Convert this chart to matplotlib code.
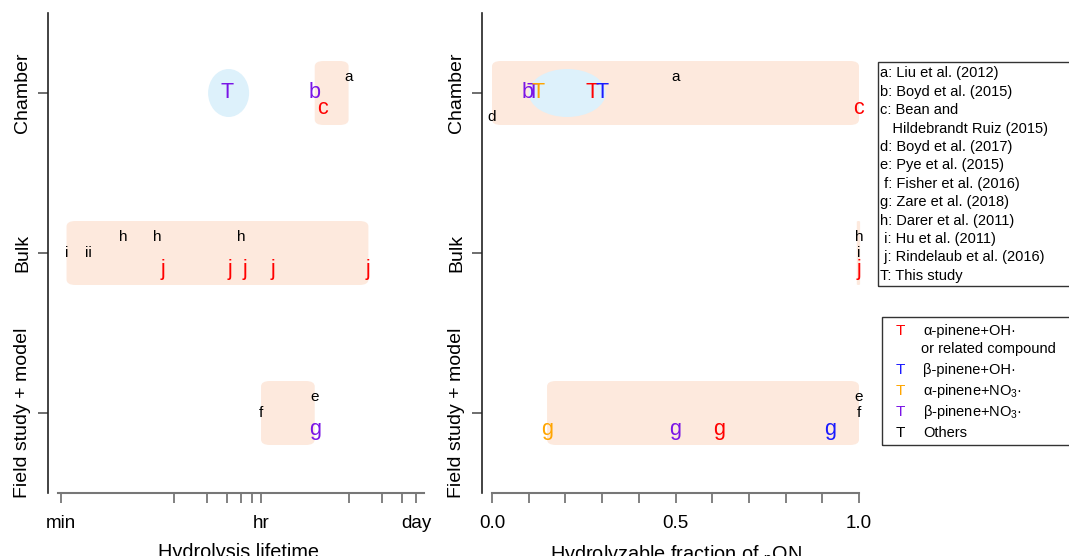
import matplotlib
matplotlib.use("Agg")
import matplotlib.pyplot as plt
from matplotlib.patches import FancyBboxPatch, Ellipse, Rectangle
from matplotlib.transforms import IdentityTransform
from matplotlib.ticker import NullLocator

# ---------------- data ----------------
row_names = ["Field study + model", "Bulk", "Chamber"]          # y = 1, 2, 3

# left panel: hydrolysis lifetime (minutes)
left_letters = ["T", "a", "b", "c",
                "i", "ii", "h", "h", "h", "j", "j", "j", "j", "j",
                "f", "e", "g"]
left_lifetime_min = [30, 360, 180, 210,
                     1.12, 1.75, 3.6, 7.1, 40, 8, 32, 43, 77, 540,
                     60, 180, 180]
left_rows = ["Chamber"] * 4 + ["Bulk"] * 10 + ["Field study + model"] * 3
left_systems = ["bNO3", "other", "bNO3", "aOH",
                "other", "other", "other", "other", "other",
                "aOH", "aOH", "aOH", "aOH", "aOH",
                "other", "other", "bNO3"]
left_ranges_rows = ["Chamber", "Bulk", "Field study + model"]
left_ranges_lo = [180, 1.12, 60]
left_ranges_hi = [360, 540, 180]
left_this_study_lo = 20.3
left_this_study_hi = 47
left_tick_values = [1, 10, 20, 30, 40, 50, 60, 360, 720, 1080, 1440]
left_tick_labels = ["min", "", "", "", "", "", "hr", "", "", "", "day"]

# right panel: hydrolyzable fraction of pON
right_letters = ["d", "b", "T", "T", "T", "T", "a", "c",
                 "h", "i", "j",
                 "e", "f", "g", "g", "g", "g"]
right_fraction = [0.0, 0.098, 0.112, 0.125, 0.272, 0.300, 0.50, 1.0,
                  1.0, 1.0, 1.0,
                  1.0, 1.0, 0.15, 0.50, 0.62, 0.92]
right_rows = ["Chamber"] * 8 + ["Bulk"] * 3 + ["Field study + model"] * 6
right_systems = ["other", "bNO3", "bNO3", "aNO3", "aOH", "bOH", "other", "aOH",
                 "other", "other", "aOH",
                 "other", "other", "aNO3", "bNO3", "aOH", "bOH"]
right_ranges_rows = ["Chamber", "Bulk", "Field study + model"]
right_ranges_lo = [0.0, 0.994, 0.15]
right_ranges_hi = [1.0, 1.003, 1.0]
right_this_study_lo = 0.10
right_this_study_hi = 0.31
right_tick_values = [0.0, 0.1, 0.2, 0.3, 0.4, 0.5, 0.6, 0.7, 0.8, 0.9, 1.0]
right_tick_labels = ["0.0", "", "", "", "", "0.5", "", "", "", "", "1.0"]

reference_entries = ["a: Liu et al. (2012)", "b: Boyd et al. (2015)", "c: Bean and",
                     "   Hildebrandt Ruiz (2015)", "d: Boyd et al. (2017)",
                     "e: Pye et al. (2015)", " f: Fisher et al. (2016)",
                     "g: Zare et al. (2018)", "h: Darer et al. (2011)",
                     " i: Hu et al. (2011)", " j: Rindelaub et al. (2016)",
                     "T: This study"]
system_keys = ["aOH", None, "bOH", "aNO3", "bNO3", "other"]
system_labels = ["α-pinene+OH·", "or related compound", "β-pinene+OH·",
                 r"α-pinene+NO$_3$·", r"β-pinene+NO$_3$·", "Others"]

# ---------------- style ----------------
W, H = 1069, 556
plt.rcParams["font.family"] = ["Liberation Sans", "DejaVu Sans"]
plt.rcParams["mathtext.fontset"] = "custom"
plt.rcParams["mathtext.rm"] = "Liberation Sans"
plt.rcParams["mathtext.it"] = "Liberation Sans:italic"
plt.rcParams["mathtext.bf"] = "Liberation Sans:bold"

colors = {"aOH": "#ff0000", "bOH": "#1a1aff", "aNO3": "#ffa500",
          "bNO3": "#7a14e6", "other": "black"}
offsets = {"a": 0.1, "e": 0.1, "h": 0.1, "b": 0.0, "f": 0.0, "i": 0.0,
           "ii": 0.0, "T": 0.0, "c": -0.1, "g": -0.1, "j": -0.1, "d": -0.15}
SALMON = "#fde9dd"
LIGHTBLUE = "#ddf1fb"
row_y = {name: i + 1 for i, name in enumerate(row_names)}

fig = plt.figure(figsize=(W / 100, H / 100), dpi=100)


def axes_px(x0, x1, ytop, ybot):
    return fig.add_axes([x0 / W, 1 - ybot / H, (x1 - x0) / W, (ybot - ytop) / H])


def setup(ax, ticks, labels, bounds):
    ax.set_ylim(0.5, 3.5)
    for s in ["top", "right"]:
        ax.spines[s].set_visible(False)
    ax.spines["left"].set_color("#222222")
    ax.spines["left"].set_linewidth(1.2)
    ax.spines["bottom"].set_color("#777777")
    ax.spines["bottom"].set_linewidth(1.5)
    ax.spines["bottom"].set_bounds(*bounds)
    ax.set_xticks(ticks)
    ax.set_xticklabels(labels, fontsize=13.5)
    ax.xaxis.set_minor_locator(NullLocator())
    ax.tick_params(axis="x", length=7.5, width=1.3, color="#777777", pad=8)
    ax.set_yticks([1, 2, 3])
    ax.set_yticklabels(row_names, rotation=90, va="center", fontsize=14)
    ax.tick_params(axis="y", length=7, width=1.2, color="#555555", pad=5)


def rrect(ax, x0, x1, yc, half=0.2):
    px0, py0 = ax.transData.transform((x0, yc - half))
    px1, py1 = ax.transData.transform((x1, yc + half))
    w, h = px1 - px0, py1 - py0
    asp = 0.6
    rs = min(9, w / 2, h / 2 / asp)
    p = FancyBboxPatch((px0, py0), w, h,
                       boxstyle=f"round,pad=0,rounding_size={rs}",
                       mutation_aspect=asp, transform=IdentityTransform(),
                       fc=SALMON, ec="none", zorder=0)
    ax.add_patch(p)


def ellipse(ax, x0, x1, yc, half=0.15):
    px0, py0 = ax.transData.transform((x0, yc - half))
    px1, py1 = ax.transData.transform((x1, yc + half))
    e = Ellipse(((px0 + px1) / 2, (py0 + py1) / 2), px1 - px0, py1 - py0,
                transform=IdentityTransform(), fc=LIGHTBLUE, ec="none", zorder=1)
    ax.add_patch(e)


def letters(ax, labs, xs, rows, systems):
    for lab, x, r, s in zip(labs, xs, rows, systems):
        c = colors[s]
        fs = 11 if s == "other" else 15.5
        ax.text(x, row_y[r] + offsets[lab], lab, color=c, fontsize=fs,
                ha="center", va="center", zorder=3)


# ---------------- left panel ----------------
axL = axes_px(48, 430, 13, 493)
axL.set_xscale("log")
axL.set_xlim(10 ** ((48 - 61) / 112.5), 10 ** ((430 - 61) / 112.5))
setup(axL, left_tick_values, left_tick_labels,
      (10 ** ((58 - 61) / 112.5), 10 ** ((424 - 61) / 112.5)))
axL.set_xlabel("Hydrolysis lifetime", fontsize=14.3)
for r, lo, hi in zip(left_ranges_rows, left_ranges_lo, left_ranges_hi):
    rrect(axL, lo, hi, row_y[r])
ellipse(axL, left_this_study_lo, left_this_study_hi, row_y["Chamber"])
letters(axL, left_letters, left_lifetime_min, left_rows, left_systems)

# ---------------- right panel ----------------
axR = axes_px(482, 870, 13, 493)
axR.set_xlim((482 - 492) / 367, (870 - 492) / 367)
setup(axR, right_tick_values, right_tick_labels, (0.0, 1.0))
axR.set_xlabel(r"Hydrolyzable fraction of ${}_\mathregular{p}$ON", fontsize=14.3)
for r, lo, hi in zip(right_ranges_rows, right_ranges_lo, right_ranges_hi):
    rrect(axR, lo, hi, row_y[r])
ellipse(axR, right_this_study_lo, right_this_study_hi, row_y["Chamber"])
letters(axR, right_letters, right_fraction, right_rows, right_systems)

for ax in (axL, axR):
    ax.xaxis.set_label_coords(0.5, -0.105)

# ---------------- legends ----------------
fig.patches.append(Rectangle((878 / W, 1 - 286 / H), (1080 - 878) / W, (286 - 62) / H,
                             transform=fig.transFigure, fill=False,
                             ec="#333333", lw=1.0))
for i, s in enumerate(reference_entries):
    fig.text(880 / W, 1 - (73.5 + 18.4 * i) / H, s, fontsize=10.5,
             ha="left", va="center")

fig.patches.append(Rectangle((882 / W, 1 - 445 / H), (1080 - 882) / W, (445 - 317) / H,
                             transform=fig.transFigure, fill=False,
                             ec="#333333", lw=1.0))
sys_y = [331, 349, 370, 391, 412, 433]
for key, lab, y in zip(system_keys, system_labels, sys_y):
    if key is not None:
        fig.text(900 / W, 1 - y / H, "T", color=colors[key], fontsize=11,
                 ha="center", va="center")
        fig.text(923 / W, 1 - y / H, lab, fontsize=10.5, ha="left", va="center")
    else:
        fig.text(921 / W, 1 - y / H, lab, fontsize=10.5, ha="left", va="center")

fig.savefig("out.png", dpi=100)
